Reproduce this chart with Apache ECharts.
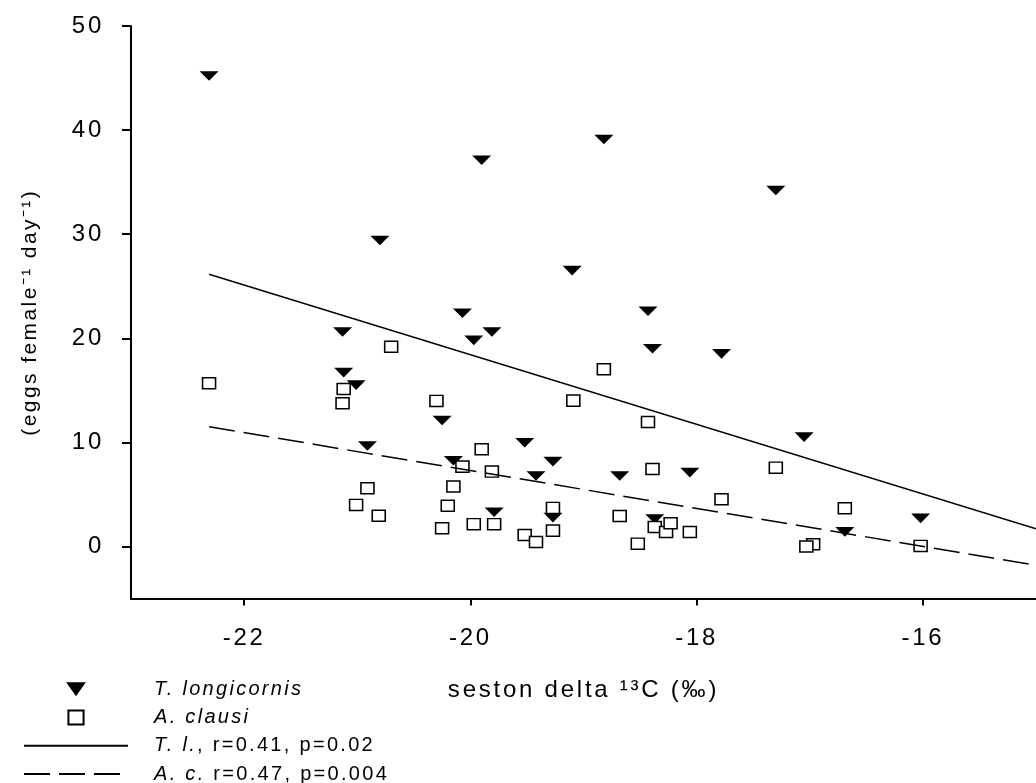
<!DOCTYPE html>
<html>
<head>
<meta charset="utf-8">
<script src="https://cdn.jsdelivr.net/npm/echarts@6/dist/echarts.min.js"></script>
<style>
html,body{margin:0;padding:0;background:#fff;}
#chart{width:1036px;height:783px;}
</style>
</head>
<body>
<div id="chart"></div>
<script>
// ---------- data ----------
const tlX = [-22.31, -20.80, -19.90, -19.10, -20.07, -19.81, -19.97, -21.13, -18.82, -17.30,
             -18.43, -17.78, -17.05, -16.02, -16.69, -18.39, -21.12, -21.01, -20.25, -20.91,
             -19.52, -20.15, -19.27, -19.42, -18.68, -18.06, -19.79, -19.27, -18.37];
const tlY = [45.2, 29.4, 37.1, 26.5, 22.4, 20.6, 19.8, 20.6, 39.1, 34.2,
             22.6, 18.5, 10.5, 2.7, 1.4, 19.0, 16.7, 15.5, 12.1, 9.65,
             9.97, 8.24, 8.15, 6.77, 6.77, 7.09, 3.29, 2.77, 2.64];

const acX = [-22.31, -20.70, -21.12, -21.13, -20.91, -21.01, -20.81, -18.82, -20.30, -19.09,
             -18.43, -19.90, -20.07, -19.81, -18.39, -17.78, -20.15, -20.20, -20.25, -19.97,
             -19.79, -19.27, -19.27, -19.52, -19.42, -18.68, -18.52, -18.37, -18.27, -18.23,
             -18.06, -16.69, -16.97, -17.03, -16.02, -17.30];
const acY = [15.68, 19.19, 15.13, 13.76, 5.59, 3.99, 2.95, 17.02, 13.98, 14.01,
             11.96, 9.34, 7.67, 7.19, 7.44, 4.54, 5.76, 3.91, 1.75, 2.14,
             2.14, 3.70, 1.52, 1.10, 0.43, 2.93, 0.27, 1.87, 1.39, 2.23,
             1.39, 3.67, 0.21, 0.0, 0.05, 7.57];

const fitX  = [-22.31, -15];
const tlFit = [26.15, 1.70];
const acFit = [11.5, -1.81];

const xTicks = [-22, -20, -18, -16];
const yTicks = [0, 10, 20, 30, 40, 50];

const legendItalic = ['T. longicornis', 'A. clausi', 'T. l.', 'A. c.'];
const legendRest   = ['', '', ', r=0.41, p=0.02', ' r=0.47, p=0.004'];

const xTitle = 'seston delta \u00B9\u00B3C (\u2030)';
const yTitle = '(eggs female\u207B\u00B9 day\u207B\u00B9)';

// ---------- wide tracking of the reference's text ----------
(function () {
  const P = window.CanvasRenderingContext2D && CanvasRenderingContext2D.prototype;
  if (!P || !('letterSpacing' in P)) return;
  const ft = P.fillText, st = P.strokeText, mt = P.measureText;
  function track(ctx) {
    const m = /([\d.]+)px/.exec(ctx.font);
    const s = m ? parseFloat(m[1]) : 12;
    ctx.letterSpacing = (s * 0.115).toFixed(2) + 'px';
  }
  P.fillText = function () { track(this); return ft.apply(this, arguments); };
  P.strokeText = function () { track(this); return st.apply(this, arguments); };
  P.measureText = function () { track(this); return mt.apply(this, arguments); };
})();

const FONT = '"Liberation Sans", Arial, Helvetica, sans-serif';
const zip = (a, b) => a.map((v, i) => [v, b[i]]);
const names = legendItalic.map((t, i) => t + legendRest[i]);

const triPath = 'path://M0,0L19,0L9.5,13.5Z';
const sqPath = 'path://M0,0L13,0L13,12L0,12Z';
const hiddenMark = { color: 'rgba(0,0,0,0)', borderWidth: 0, opacity: 0 };

const chart = echarts.init(document.getElementById('chart'), null, { renderer: 'canvas' });

chart.setOption({
  animation: false,
  backgroundColor: '#ffffff',
  textStyle: { fontFamily: FONT, color: '#000' },
  grid: { left: 131, right: -2, top: 26, bottom: 184.5, containLabel: false },
  xAxis: {
    type: 'value', min: -23, max: -15,
    name: xTitle, nameLocation: 'middle', nameGap: 78,
    nameTextStyle: { fontSize: 24, color: '#000', fontFamily: FONT },
    axisLine: { show: true, onZero: false, lineStyle: { color: '#000', width: 2 } },
    axisTick: { show: true, inside: false, length: 7, customValues: xTicks, lineStyle: { color: '#000', width: 2 } },
    axisLabel: { show: true, customValues: xTicks, margin: 26, fontSize: 24, color: '#000', fontFamily: FONT },
    splitLine: { show: false }
  },
  yAxis: {
    type: 'value', min: -5, max: 50,
    name: yTitle, nameLocation: 'middle', nameGap: 89, nameRotate: 90,
    nameTextStyle: { fontSize: 21, color: '#000', fontFamily: FONT },
    axisLine: { show: true, onZero: false, lineStyle: { color: '#000', width: 2 } },
    axisTick: { show: true, inside: false, length: 9, customValues: yTicks, lineStyle: { color: '#000', width: 2 } },
    axisLabel: { show: true, customValues: yTicks, margin: 27, fontSize: 24, color: '#000', fontFamily: FONT },
    splitLine: { show: false }
  },
  legend: {
    orient: 'vertical', left: 23, top: 678, height: 140, padding: 0,
    itemWidth: 104, itemHeight: 14, itemGap: 6,
    selectedMode: false,
    data: [
      { name: names[0] },
      { name: names[1] },
      { name: names[2], itemStyle: hiddenMark },
      { name: names[3], itemStyle: hiddenMark }
    ],
    formatter: function (name) {
      const i = names.indexOf(name);
      return '{it|' + legendItalic[i] + '}' + (legendRest[i] ? '{n|' + legendRest[i] + '}' : '');
    },
    textStyle: {
      fontFamily: FONT, fontSize: 20, color: '#000', lineHeight: 20,
      rich: {
        it: { fontFamily: FONT, fontSize: 20, lineHeight: 20, fontStyle: 'italic', color: '#000', padding: [0, 0, 0, 21] },
        n: { fontFamily: FONT, fontSize: 20, lineHeight: 20, color: '#000' }
      }
    }
  },
  series: [
    {
      name: names[0], type: 'scatter', data: zip(tlX, tlY),
      symbol: triPath, symbolSize: [19, 13.5], symbolKeepAspect: true,
      itemStyle: { color: '#000', opacity: 1 },
      emphasis: { disabled: true }, silent: true
    },
    {
      name: names[1], type: 'scatter', data: zip(acX, acY),
      symbol: sqPath, symbolSize: [13, 12], symbolKeepAspect: true,
      itemStyle: { color: '#fff', borderColor: '#000', borderWidth: 1.5, opacity: 1 },
      emphasis: { disabled: true }, silent: true
    },
    {
      name: names[2], type: 'line', data: zip(fitX, tlFit),
      symbol: 'none', showSymbol: false,
      lineStyle: { color: '#000', width: 1.5, type: 'solid' },
      itemStyle: { color: '#000' },
      emphasis: { disabled: true }, silent: true
    },
    {
      name: names[3], type: 'line', data: zip(fitX, acFit),
      symbol: 'none', showSymbol: false,
      lineStyle: { color: '#000', width: 1.5, type: [26, 9] },
      itemStyle: { color: '#000' },
      emphasis: { disabled: true }, silent: true
    }
  ]
});
</script>
</body>
</html>
